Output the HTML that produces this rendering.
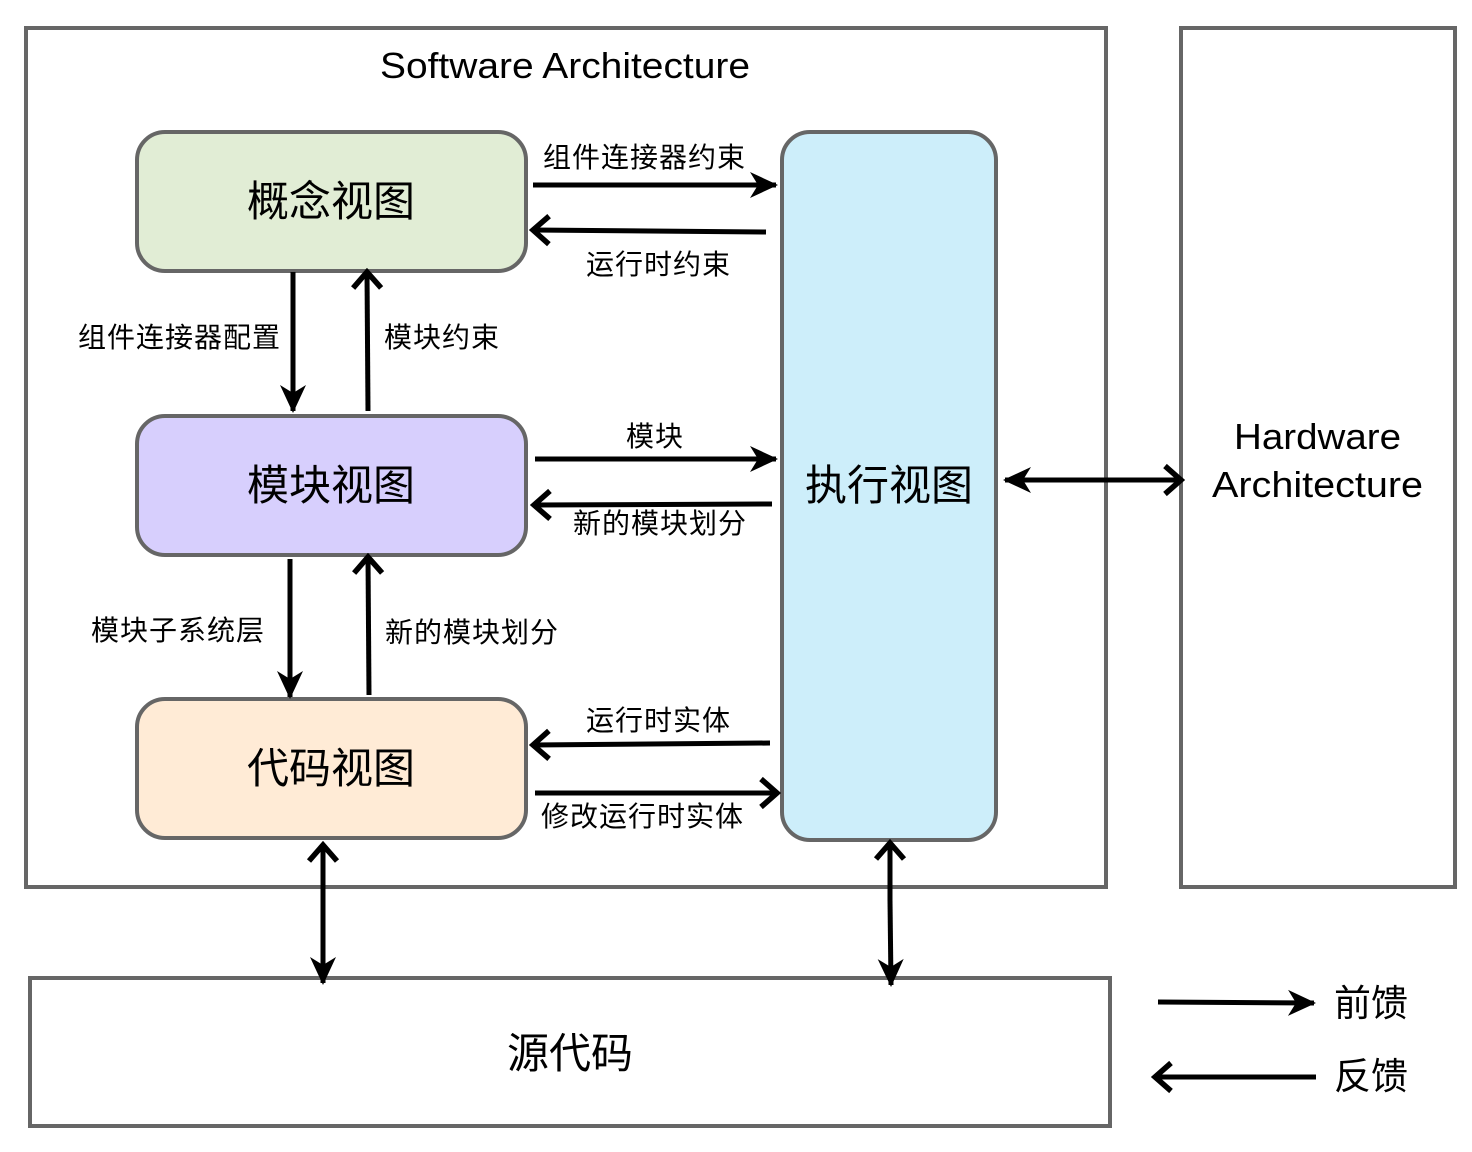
<!DOCTYPE html>
<html><head><meta charset="utf-8"><style>
html,body{margin:0;padding:0;background:#fff}
svg{display:block}
text{font-family:"Liberation Sans","Noto Sans CJK SC",sans-serif;fill:#000}
</style></head><body>
<svg width="1472" height="1152" viewBox="0 0 1472 1152" xmlns="http://www.w3.org/2000/svg">
<defs>
<marker id="f" viewBox="-28 -16 32 32" refX="0" refY="0" markerWidth="32" markerHeight="32" markerUnits="userSpaceOnUse" orient="auto">
<path d="M2,0 L-26,-13 L-18,0 L-26,13 Z" fill="#000"/>
</marker>
<marker id="b" viewBox="-28 -18 32 36" refX="0" refY="0" markerWidth="32" markerHeight="36" markerUnits="userSpaceOnUse" orient="auto">
<polyline points="-16,-14 0,0 -16,14" fill="none" stroke="#000" stroke-width="5.5"/>
</marker>
</defs>
<g fill="none" stroke="#666" stroke-width="4">
<rect x="26" y="28" width="1080" height="859"/>
<rect x="1181" y="28" width="274" height="859"/>
<rect x="30" y="978" width="1080" height="148"/>
</g>
<g stroke="#666" stroke-width="4">
<rect x="137" y="132" width="389" height="139" rx="28" fill="#e1edd5"/>
<rect x="137" y="416" width="389" height="139" rx="28" fill="#d7cffd"/>
<rect x="137" y="699" width="389" height="139" rx="28" fill="#ffebd6"/>
<rect x="782" y="132" width="214" height="708" rx="28" fill="#cdeefa"/>
</g>
<g stroke="#000" stroke-width="5" fill="none">
<line x1="533" y1="185" x2="776" y2="185" marker-end="url(#f)"/>
<line x1="766" y1="232" x2="533" y2="230" marker-end="url(#b)"/>
<line x1="535" y1="459" x2="776" y2="459" marker-end="url(#f)"/>
<line x1="772" y1="504" x2="534" y2="505" marker-end="url(#b)"/>
<line x1="770" y1="743" x2="533" y2="745" marker-end="url(#b)"/>
<line x1="535" y1="793" x2="777" y2="793" marker-end="url(#b)"/>
<line x1="293" y1="272" x2="293" y2="411" marker-end="url(#f)"/>
<line x1="368" y1="411" x2="367" y2="272" marker-end="url(#b)"/>
<line x1="290" y1="559" x2="290" y2="697" marker-end="url(#f)"/>
<line x1="369" y1="695" x2="368" y2="557" marker-end="url(#b)"/>
<line x1="323" y1="900" x2="323" y2="845" marker-end="url(#b)"/>
<line x1="323" y1="900" x2="323" y2="983" marker-end="url(#f)"/>
<line x1="890" y1="900" x2="890" y2="843" marker-end="url(#b)"/>
<line x1="890" y1="900" x2="891" y2="985" marker-end="url(#f)"/>
<line x1="1090" y1="480" x2="1005" y2="480" marker-end="url(#f)"/>
<line x1="1090" y1="480" x2="1181" y2="480" marker-end="url(#b)"/>
<line x1="1158" y1="1002" x2="1314" y2="1003" marker-end="url(#f)"/>
<line x1="1316" y1="1077" x2="1155" y2="1077" marker-end="url(#b)"/>
</g>
<text x="380" y="78" font-size="36" textLength="370" lengthAdjust="spacingAndGlyphs">Software Architecture</text>
<text x="1234" y="449" font-size="36" textLength="167" lengthAdjust="spacingAndGlyphs">Hardware</text>
<text x="1212" y="497" font-size="36" textLength="211" lengthAdjust="spacingAndGlyphs">Architecture</text>
<g font-size="42" text-anchor="middle">
<text x="331" y="216">概念视图</text>
<text x="331" y="500">模块视图</text>
<text x="331" y="783">代码视图</text>
<text x="889" y="500">执行视图</text>
<text x="570" y="1068">源代码</text>
</g>
<g font-size="28" letter-spacing="1">
<text x="543" y="167">组件连接器约束</text>
<text x="586" y="274">运行时约束</text>
<text x="78" y="347">组件连接器配置</text>
<text x="384" y="347">模块约束</text>
<text x="626" y="446">模块</text>
<text x="573" y="533">新的模块划分</text>
<text x="91" y="640">模块子系统层</text>
<text x="385" y="642">新的模块划分</text>
<text x="586" y="730">运行时实体</text>
<text x="541" y="826">修改运行时实体</text>
</g>
<g font-size="37">
<text x="1334" y="1016">前馈</text>
<text x="1334" y="1089">反馈</text>
</g>
</svg>
</body></html>
